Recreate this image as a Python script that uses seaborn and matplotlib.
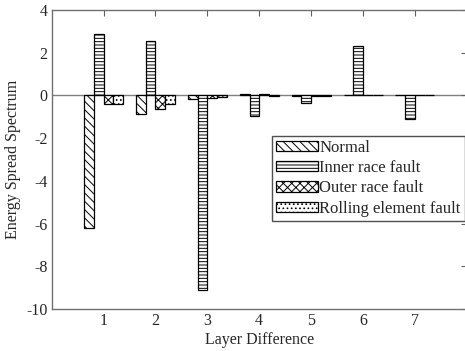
import matplotlib
matplotlib.use("Agg")
import matplotlib.pyplot as plt
import matplotlib.patches as mpatches
import seaborn as sns
import pandas as pd

layers = [1, 2, 3, 4, 5, 6, 7]
series_names = ["Normal", "Inner race fault", "Outer race fault", "Rolling element fault"]
normal = [-6.19, -0.86, -0.16, 0.08, -0.03, 0.01, 0.01]
inner = [2.85, 2.53, -9.12, -0.97, -0.36, 2.31, -1.10]
outer = [-0.41, -0.64, -0.13, 0.08, -0.05, 0.01, 0.01]
rolling = [-0.41, -0.41, -0.08, -0.01, -0.03, 0.01, 0.01]
hatches = ["\\\\\\\\", "-----", "xxxx", "...."]
xticks = [1, 2, 3, 4, 5, 6, 7]
yticks = [-10, -8, -6, -4, -2, 0, 2, 4]

rows = []
for name, vals in zip(series_names, [normal, inner, outer, rolling]):
    for l, v in zip(layers, vals):
        rows.append({"Layer": l, "Value": v, "Series": name})
df = pd.DataFrame(rows)

sns.set_theme(style="white")
plt.rcParams["font.family"] = ["Liberation Serif", "DejaVu Serif"]
plt.rcParams["axes.unicode_minus"] = False
plt.rcParams["hatch.linewidth"] = 0.7
plt.rcParams["hatch.color"] = "#202020"

fig = plt.figure(figsize=(4.65, 3.51), dpi=100)
ax = fig.add_axes([0.111, 0.119, 0.893, 0.853])

ax.axhline(0, color="#808080", lw=1.0, zorder=0.5)
sns.barplot(data=df, x="Layer", y="Value", hue="Series", hue_order=series_names,
            native_scale=True, width=0.75, palette=["white"] * 4,
            edgecolor="black", linewidth=0.9, saturation=1, legend=False, ax=ax,
            errorbar=None)
for cont, h in zip(ax.containers, hatches):
    for p in cont:
        p.set_hatch(h)
        p.set_facecolor("white")
        p.set_edgecolor("black")

ax.set_xlim(0, 8)
ax.set_ylim(-10, 4)
ax.set_xticks(xticks)
ax.set_xticklabels([str(t) for t in xticks])
ax.set_yticks(yticks)
ax.set_yticklabels([str(t) for t in yticks])
ax.tick_params(direction="in", length=4, width=0.8, color="#606060",
               top=True, right=True, labelsize=11.5, pad=3)
for s in ax.spines.values():
    s.set_color("#707070")
    s.set_linewidth(1.0)
ax.set_xlabel("Layer Difference", fontsize=11.5, labelpad=2)
ax.set_ylabel("Energy Spread Spectrum", fontsize=11.5, labelpad=4)

handles = [mpatches.Patch(facecolor="white", edgecolor="black", hatch=h, lw=0.9)
           for h in hatches]
leg = ax.legend(handles, series_names, loc="upper left", bbox_to_anchor=(0.53, 0.579),
                fontsize=12, frameon=True, fancybox=False, framealpha=1,
                edgecolor="#505050", handlelength=2.5, handleheight=0.55,
                handletextpad=0.1, labelspacing=0.25, borderpad=0.25,
                borderaxespad=0)
leg.get_frame().set_linewidth(1.0)

fig.savefig("out.png", dpi=100)
